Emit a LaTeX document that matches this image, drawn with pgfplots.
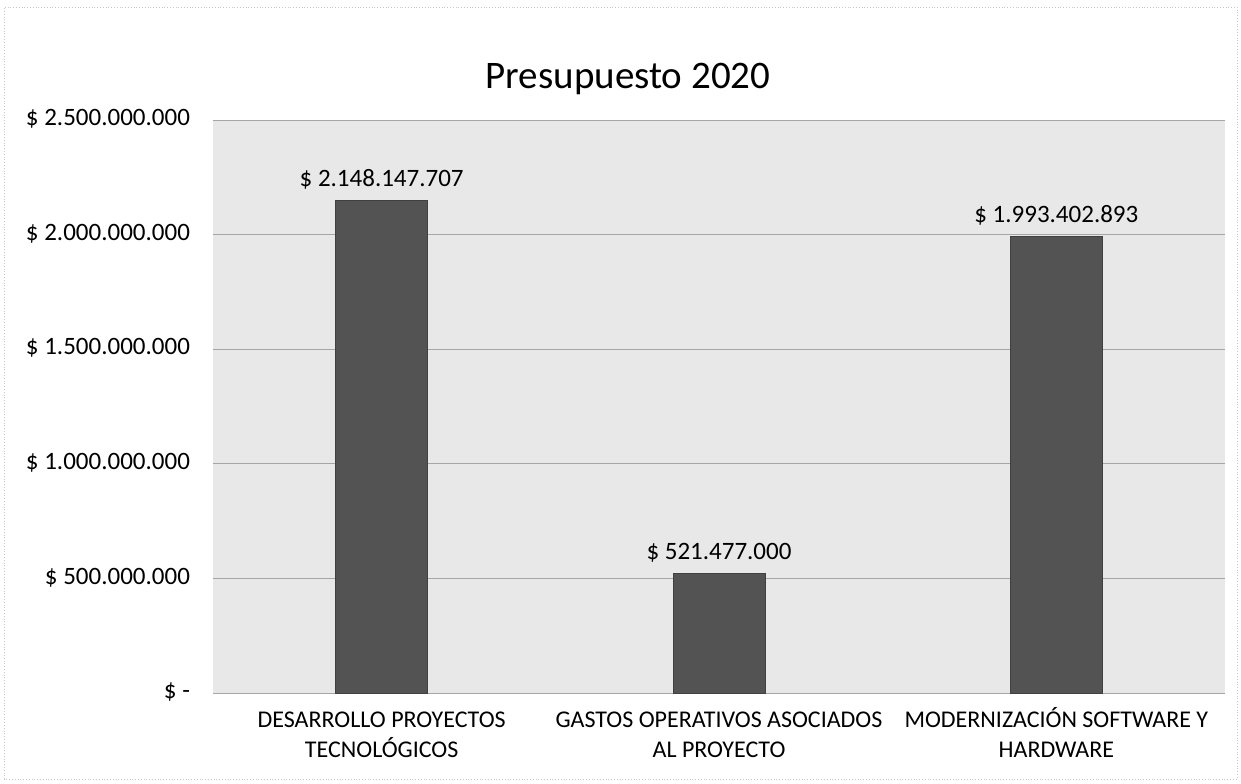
\documentclass[border=0pt]{standalone}
\usepackage{pgfplots}
\pgfplotsset{compat=1.18}
\usepackage{fontspec}
\setmainfont{Carlito}
\begin{document}
\begin{tikzpicture}
\path[use as bounding box] (0,0) rectangle (620.5pt,391.5pt);
\draw[gray!45, densely dotted] (2pt,2pt) rectangle (618.5pt,388pt);
\node[font=\fontsize{19.5}{23}\selectfont] at (314pt,352pt) {Presupuesto 2020};
\begin{axis}[
  at={(106.5pt,45pt)}, anchor=south west,
  scale only axis, width=506pt, height=286.5pt,
  xmin=-0.5, xmax=2.5, ymin=0, ymax=2500000000,
  scaled y ticks=false,
  axis background/.style={fill=gray!18},
  axis line style={draw=none},
  ytick={0,500000000,1000000000,1500000000,2000000000,2500000000},
  yticklabels={\$ -,\$ 500.000.000,\$ 1.000.000.000,\$ 1.500.000.000,\$ 2.000.000.000,\$ 2.500.000.000},
  yticklabel style={font=\fontsize{12.5}{14}\selectfont, xshift=-8pt},
  xtick={0,1,2},
  xticklabels={DESARROLLO PROYECTOS\\TECNOLÓGICOS, GASTOS OPERATIVOS ASOCIADOS\\AL PROYECTO, MODERNIZACIÓN SOFTWARE Y\\HARDWARE},
  typeset ticklabels with strut,
  xticklabel style={font=\fontsize{12}{15}\selectfont, align=center, yshift=-3pt},
  major tick length=0pt,
  ymajorgrids, grid style={gray!70, thin},
  ybar, bar width=46pt,
  nodes near coords, point meta=explicit symbolic,
  every node near coord/.append style={font=\fontsize{12.5}{14}\selectfont, yshift=2pt},
]
\addplot[fill=gray!65!black, draw=gray!50!black] coordinates {
  (0,2148147707) [\$ 2.148.147.707]
  (1,521477000) [\$ 521.477.000]
  (2,1993402893) [\$ 1.993.402.893]
};
\end{axis}
\end{tikzpicture}
\end{document}
